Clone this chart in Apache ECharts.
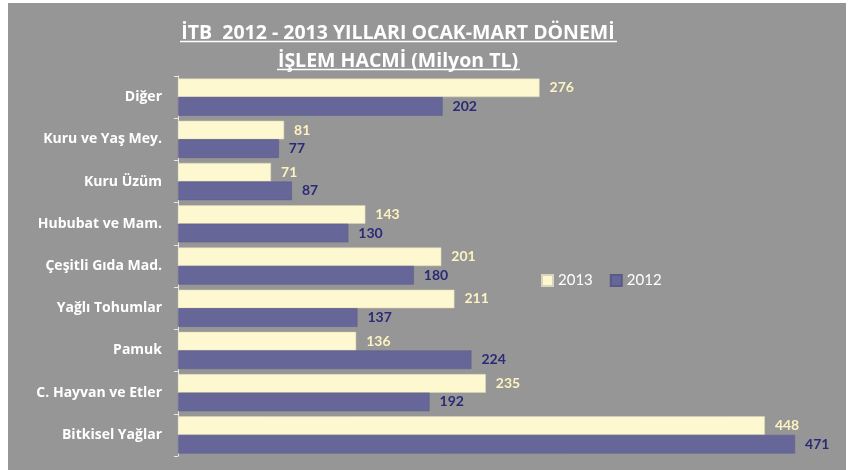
<!DOCTYPE html>
<html>
<head>
<meta charset="utf-8">
<script src="https://cdn.jsdelivr.net/npm/echarts@6/dist/echarts.min.js"></script>
<style>
  html, body { margin: 0; padding: 0; background: #ffffff; }
  #chart { position: absolute; left: 8px; top: 3px; width: 838px; height: 467px; background: #969696; }
</style>
</head>
<body>
<div id="chart"></div>
<script>
// kategoriler (alttan üste)
var categories = ['Bitkisel Yağlar', 'C. Hayvan ve Etler', 'Pamuk', 'Yağlı Tohumlar',
  'Çeşitli Gıda Mad.', 'Hububat ve Mam.', 'Kuru Üzüm', 'Kuru ve Yaş Mey.', 'Diğer'];
var seriesNames = ['2013', '2012'];
var values2013 = [448, 235, 136, 211, 201, 143, 71, 81, 276];
var values2012 = [471, 192, 224, 137, 180, 130, 87, 77, 202];

var FONT = 'Open Sans';
var NUMFONT = 'Lato';
var chart = echarts.init(document.getElementById('chart'));

var option = {
  backgroundColor: 'transparent',
  animation: false,
  title: {
    text: 'İTB  2012 - 2013 YILLARI OCAK-MART DÖNEMİ\nİŞLEM HACMİ (Milyon TL)',
    left: 390, top: 16, padding: 0, textAlign: 'center',
    textStyle: { color: '#ffffff', fontFamily: FONT, fontWeight: 'bold', fontSize: 19.5, lineHeight: 28 }
  },
  graphic: [
    // başlık altı çizgileri
    { type: 'line', shape: { x1: 172, y1: 38.5, x2: 609, y2: 38.5 }, style: { stroke: '#ffffff', lineWidth: 1.5 } },
    { type: 'line', shape: { x1: 269, y1: 66.5, x2: 512, y2: 66.5 }, style: { stroke: '#ffffff', lineWidth: 1.5 } }
  ],
  legend: {
    data: seriesNames,
    left: 533, top: 270, padding: 0,
    itemWidth: 11, itemHeight: 11, itemGap: 17,
    icon: 'rect',
    textStyle: { color: '#ffffff', fontFamily: NUMFONT, fontSize: 15 }
  },
  grid: { left: 170, top: 73, width: 655, height: 380 },
  xAxis: {
    type: 'value', min: 0, max: 500,
    show: false
  },
  yAxis: {
    type: 'category',
    data: categories,
    axisLine: { show: true, lineStyle: { color: '#e6e6e6', width: 1 } },
    axisTick: { show: true, length: 4, lineStyle: { color: '#e6e6e6' } },
    axisLabel: { color: '#ffffff', fontFamily: FONT, fontWeight: 'bold', fontSize: 14, margin: 16 },
    splitLine: { show: false }
  },
  series: [
    {
      name: '2013', type: 'bar', data: values2013,
      barGap: '0%', barCategoryGap: '12%',
      itemStyle: { color: '#fdf8d0', borderColor: '#d9d6bb', borderWidth: 0.5 },
      label: { show: true, position: 'right', distance: 10, color: '#fdf3c0',
        fontFamily: NUMFONT, fontWeight: 'bold', fontSize: 14 }
    },
    {
      name: '2012', type: 'bar', data: values2012,
      barGap: '0%', barCategoryGap: '12%',
      itemStyle: { color: '#666699', borderColor: '#5a5a88', borderWidth: 0.5 },
      label: { show: true, position: 'right', distance: 10, color: '#2a2a78',
        fontFamily: NUMFONT, fontWeight: 'bold', fontSize: 14 }
    }
  ]
};
chart.setOption(option);
</script>
</body>
</html>
